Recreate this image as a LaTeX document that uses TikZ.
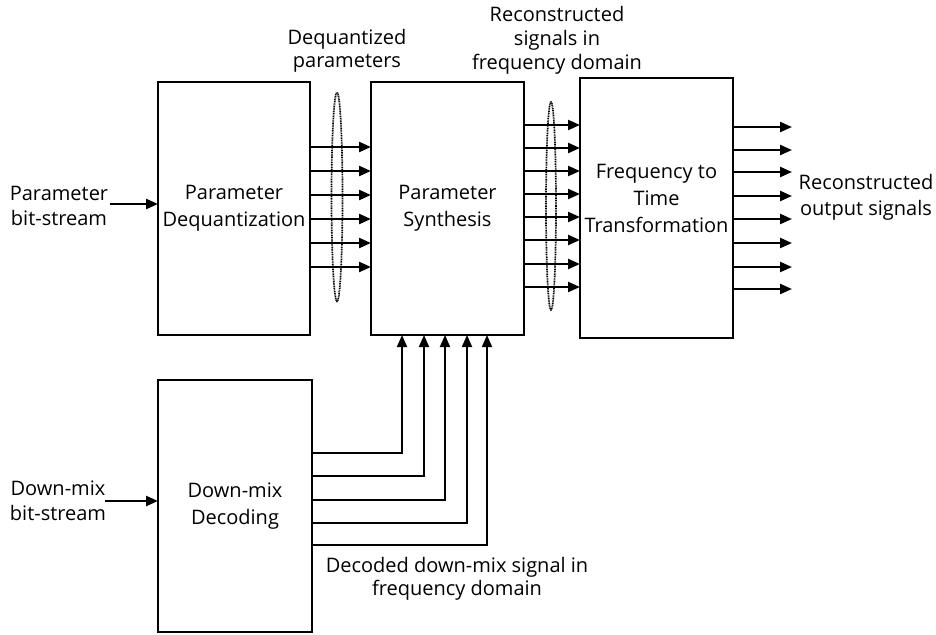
\documentclass[tikz,border=0pt]{standalone}
\usepackage{fontspec}
\setmainfont{Open Sans}
\usetikzlibrary{arrows.meta}
\begin{document}
\begin{tikzpicture}[x=1pt,y=-1pt,
  blk/.style={draw, line width=2.5pt, inner sep=0pt, outer sep=0pt, align=center,
    font=\fontsize{20}{27}\selectfont},
  lbl/.style={align=center, font=\fontsize{20}{25}\selectfont, inner sep=0pt},
  arr/.style={line width=2.3pt, -{Triangle[length=12pt,width=10pt]}},
  dmx/.style={line width=1.8pt, -{Triangle[length=12pt,width=10pt]}},
  grp/.style={line width=1.7pt, dash pattern=on 1pt off 0.7pt}
]
\useasboundingbox (0,0) rectangle (936,634);

% blocks
\node[blk, minimum width=152pt, minimum height=253pt] (pd) at (234,208.5) {Parameter\\Dequantization};
\node[blk, minimum width=153pt, minimum height=253pt] (ps) at (447.5,208.5) {Parameter\\Synthesis};
\node[blk, minimum width=153pt, minimum height=260pt] (ft) at (656.5,208) {};
\node[lbl, font=\fontsize{20}{27}\selectfont] (ftt) at (656.5,198) {Frequency to\\Time\\Transformation};
\node[blk, minimum width=154pt, minimum height=252pt] (dm) at (235,506) {Down-mix\\Decoding};

% labels
\node[lbl] (pbs) at (59,205.5) {Parameter\\bit-stream};
\node[lbl] (dbs) at (58,501) {Down-mix\\bit-stream};
\node[lbl, font=\fontsize{20}{23}\selectfont] (dqp) at (347,51) {Dequantized\\parameters};
\node[lbl, font=\fontsize{20}{24}\selectfont] (rsf) at (557,40) {Reconstructed\\signals in\\frequency domain};
\node[lbl, font=\fontsize{20}{26}\selectfont] (ros) at (866,197) {Reconstructed\\output signals};
\node[lbl, font=\fontsize{20}{23}\selectfont] (dds) at (457,579) {Decoded down-mix signal in\\frequency domain};

% inputs
\coordinate (pin) at (110,204);
\coordinate (din) at (105,501);
\draw[arr] (pin) -- (pd.west |- pin);
\draw[arr] (din) -- (dm.west |- din);

% parameters to synthesis
\foreach \y in {147,171,195,219,243,267}
  \draw[arr] (pd.east |- 0,\y) -- (ps.west |- 0,\y);
\draw[grp] (337,197) ellipse [x radius=5.5pt, y radius=104.5pt];

% synthesis to F/T
\foreach \y in {125,148,171,194,217,240,264,287}
  \draw[arr] (ps.east |- 0,\y) -- (ft.west |- 0,\y);
\draw[grp] (551,206) ellipse [x radius=5pt, y radius=104pt];

% outputs
\foreach \y [count=\i] in {127,150,172,196,219,243,267,289} {
  \coordinate (o\i) at (792,\y);
  \draw[arr] (ft.east |- o\i) -- (o\i);
}

% down-mix to synthesis
\foreach \y/\x in {452.7/402,476/424,500/445,523/467,545/487}
  \draw[dmx] (dm.east |- 0,\y) -| (ps.south -| \x,0);
\end{tikzpicture}
\end{document}
